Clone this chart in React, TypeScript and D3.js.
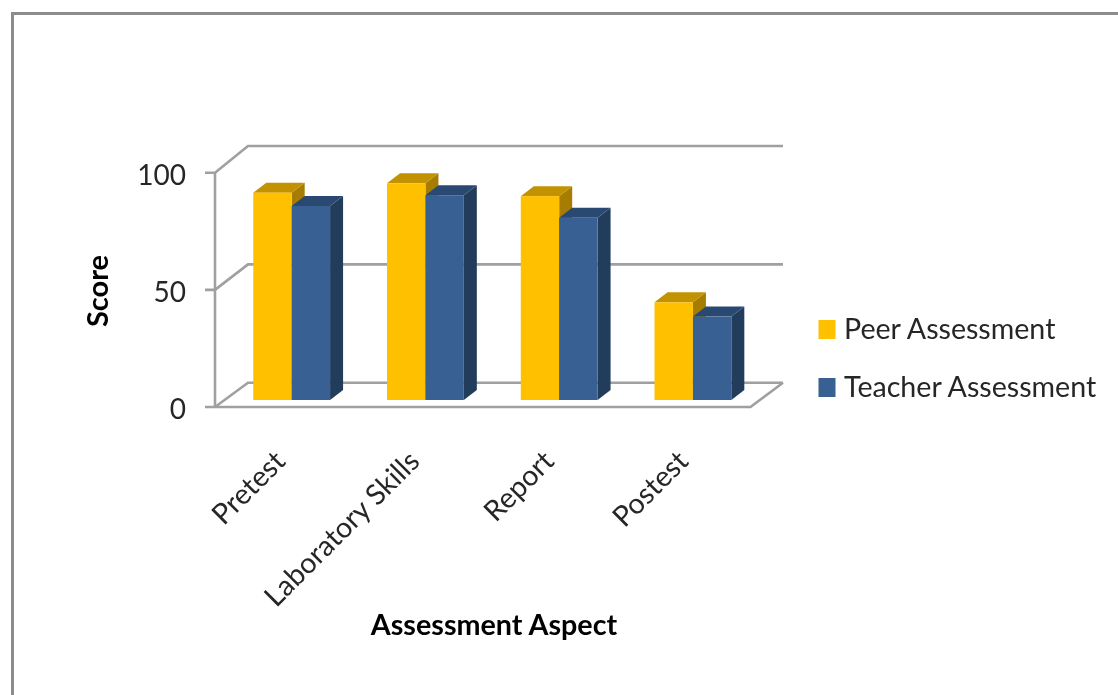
import React, { useEffect, useRef } from 'react';
import * as d3 from 'd3';

const categories = ['Pretest', 'Laboratory Skills', 'Report', 'Postest'];
const seriesNames = ['Peer Assessment', 'Teacher Assessment'];
const peerScores = [88.5, 92.5, 87, 41.7];
const teacherScores = [82.8, 87.4, 77.8, 35.6];
const yTicks = [0, 50, 100];

const FONT = 'Lato, "Open Sans", sans-serif';
const GRID = '#a0a0a0';
const seriesColors = [
  { front: '#ffc000', top: '#c29200', side: '#a67d00' },
  { front: '#376092', top: '#2a4a72', side: '#223c5c' },
];

const App: React.FC = () => {
  const svgRef = useRef<SVGSVGElement>(null);

  useEffect(() => {
    if (!svgRef.current) return;
    const width = 1118;
    const height = 695;

    d3.select(svgRef.current).selectAll('*').remove();
    const root = d3.select(svgRef.current)
      .attr('width', width)
      .attr('height', height)
      .attr('viewBox', `0 0 ${width} ${height}`);

    // The reference is a slightly soft screenshot
    root.append('defs')
      .append('filter')
      .attr('id', 'soft')
      .attr('filterUnits', 'userSpaceOnUse')
      .attr('x', 0)
      .attr('y', 0)
      .attr('width', width)
      .attr('height', height)
      .append('feGaussianBlur')
      .attr('stdDeviation', 0.5);
    const svg = root.append('g').attr('filter', 'url(#soft)');

    // Chart frame, cropped by the picture on the right and at the bottom
    svg.append('path')
      .attr('d', `M12.5,${height + 5}V13.5H${width + 5}`)
      .attr('fill', 'none')
      .attr('stroke', '#8c8c8c')
      .attr('stroke-width', 3);

    // Front plane, back wall and the plane the bars stand on
    const x = d3.scaleBand<string>().domain(categories).range([215, 750]);
    const yFront = d3.scaleLinear().domain([0, 100]).range([407, 172.7]);
    const yBack = d3.scaleLinear().domain([0, 100]).range([382.7, 146]);
    const yBar = d3.scaleLinear().domain([0, 100]).range([400, 165.7]);
    const xLabel = d3.scalePoint<string>().domain(categories).range([287, 690]);
    const wallDepth = 33;
    const barDepthX = 13;
    const barDepthY = 10;
    const barShift = 9.8;
    const barWidth = 38.4;

    const grid = svg.append('g')
      .attr('fill', 'none')
      .attr('stroke', GRID)
      .attr('stroke-width', 2.6);

    yTicks.forEach(t => {
      grid.append('path')
        .attr('d', `M205,${yFront(t)}H215L${215 + wallDepth},${yBack(t)}H783`);
    });
    grid.append('path').attr('d', `M215,${yFront(0)}V${yFront(100)}`);
    grid.append('path')
      .attr('d', `M215,${yFront(0)}H750.5L783,${yBack(0)}`);

    // Bars, drawn back to front so the taller left bar's side is kept
    const series = [peerScores, teacherScores];
    const barsLayer = svg.append('g');
    categories.forEach((cat, i) => {
      const center = (x(cat) as number) + x.bandwidth() / 2 + barShift;
      series.forEach((values, s) => {
        const left = center - barWidth + s * barWidth;
        const right = left + barWidth;
        const top = yBar(values[i]);
        const base = yBar(0);
        const c = seriesColors[s];
        const g = barsLayer.append('g');
        g.append('path')
          .attr('d', `M${right},${top}l${barDepthX},${-barDepthY}V${base - barDepthY}l${-barDepthX},${barDepthY}Z`)
          .attr('fill', c.side);
        g.append('path')
          .attr('d', `M${left},${top}l${barDepthX},${-barDepthY}H${right + barDepthX}l${-barDepthX},${barDepthY}Z`)
          .attr('fill', c.top);
        g.append('rect')
          .attr('x', left)
          .attr('y', top)
          .attr('width', barWidth)
          .attr('height', base - top)
          .attr('fill', c.front);
      });
    });

    // Tick labels
    const labels = svg.append('g').attr('font-family', FONT).attr('fill', '#262626');
    yTicks.forEach(t => {
      labels.append('text')
        .attr('x', 186)
        .attr('y', yFront(t) + 12)
        .attr('text-anchor', 'end')
        .attr('font-size', 28)
        .text(t);
    });

    categories.forEach(cat => {
      labels.append('text')
        .attr('transform', `translate(${xLabel(cat)},463) rotate(-45)`)
        .attr('text-anchor', 'end')
        .attr('font-size', 28.5)
        .text(cat);
    });

    // Axis titles
    labels.append('text')
      .attr('transform', 'translate(108,291) rotate(-90)')
      .attr('text-anchor', 'middle')
      .attr('font-size', 29)
      .attr('font-weight', 'bold')
      .attr('fill', '#000')
      .text('Score');
    labels.append('text')
      .attr('x', 494)
      .attr('y', 635)
      .attr('text-anchor', 'middle')
      .attr('font-size', 28.7)
      .attr('font-weight', 'bold')
      .attr('fill', '#000')
      .text('Assessment Aspect');

    // Legend
    seriesNames.forEach((name, i) => {
      const ly = 320 + i * 58;
      svg.append('rect')
        .attr('x', 818.5)
        .attr('y', ly)
        .attr('width', 17)
        .attr('height', 19)
        .attr('fill', seriesColors[i].front);
      labels.append('text')
        .attr('x', 844)
        .attr('y', ly + 18.5)
        .attr('font-size', 28.6)
        .text(name);
    });
  }, []);

  return <svg ref={svgRef} style={{ position: 'absolute', left: 0, top: 0, display: 'block' }}></svg>;
};

export default App;
